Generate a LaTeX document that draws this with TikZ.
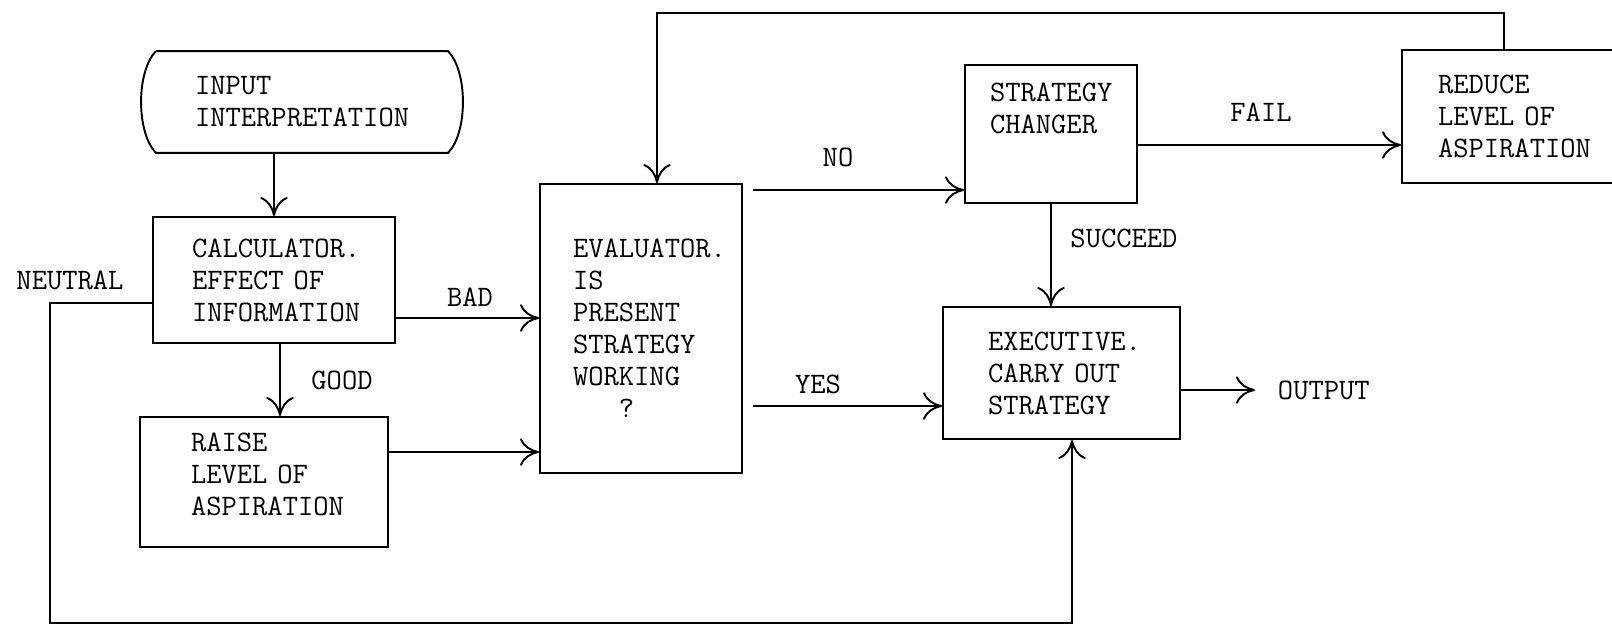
\documentclass[tikz,border=0pt]{standalone}
\usepackage{fontspec}
\usepackage{tikz}
\usetikzlibrary{arrows.meta}

\begin{document}
\begin{tikzpicture}[x=0.02cm, y=-0.02cm,
			box/.style={draw, rectangle, align=left, inner xsep=0pt, inner ysep=0pt},
			lbl/.style={inner sep=1pt},
			every node/.style={font=\ttfamily\fontsize{16.9}{18.2}\selectfont},
			>={Computer Modern Rightarrow[length=.38cm, width=.55cm]},
			line width=1.1pt]
	\useasboundingbox (0,0) rectangle (1612,629);
	\clip (0,0) rectangle (1612,629);
	\node[box, draw=none, minimum width=5.8cm, minimum height=2cm, text width=4.28cm] (inp) at (302,102) {INPUT\\INTERPRETATION};
	\draw (inp.north west) -- (inp.north east) .. controls +(20,20) and +(20,-20) .. (inp.south east)
		-- (inp.south west) .. controls +(-20,-20) and +(-20,20) .. (inp.north west);
	\node[box, minimum width=4.84cm, minimum height=2.52cm, text width=3.28cm] (calc) at (274,280) {CALCULATOR.\\EFFECT OF\\INFORMATION};
	\node[box, minimum width=4.96cm, minimum height=2.6cm, text width=2.92cm] (raise) at (264,482) {RAISE\\LEVEL OF\\ASPIRATION\\[-0.32cm]\mbox{}};
	\node[box, minimum width=4.04cm, minimum height=5.78cm, text width=2.72cm] (eval) at (641,328.5) {EVALUATOR.\\IS\\PRESENT\\STRATEGY\\WORKING\\\phantom{WOR}?};
	\node[box, minimum width=3.44cm, minimum height=2.76cm, text width=2.44cm] (chg) at (1051,134) {STRATEGY\\CHANGER\\[0.4cm]\mbox{}};
	\node[box, minimum width=4.74cm, minimum height=2.64cm, text width=2.94cm] (exec) at (1061.5,373) {EXECUTIVE.\\CARRY OUT\\STRATEGY};
	\node[box, minimum width=4.76cm, minimum height=2.66cm, text width=3.32cm] (reduce) at (1521,116.5) {REDUCE\\LEVEL OF\\ASPIRATION};
	\node[lbl] (neutral) at (70,280) {NEUTRAL};
	\node[lbl] (bad) at (470,297) {BAD};
	\node[lbl] (good) at (342,380) {GOOD};
	\node[lbl] (no) at (838,157) {NO};
	\node[lbl] (yes) at (818,384) {YES};
	\node[lbl] (succ) at (1124,238) {SUCCEED};
	\node[lbl] (fail) at (1261,112) {FAIL};
	\node[lbl, anchor=west, inner xsep=0.44cm] (out) at (1255,390) {OUTPUT};
	\coordinate (loopL) at (50,623);
	\coordinate (loopT) at (657,13);
	\draw[->] (calc.north |- inp.south) -- (calc.north);
	\draw[->] ([xshift=0.12cm]calc.south) -- ([xshift=0.12cm]calc.south |- raise.north);
	\draw[->] ([yshift=-0.76cm]calc.east) -- ([yshift=-0.76cm]calc.east -| eval.west);
	\draw[->] ([yshift=0.6cm]raise.east) -- ([yshift=0.6cm]raise.east -| eval.west);
	\draw[->] ([xshift=0.2cm, yshift=2.77cm]eval.east) -- ([yshift=2.77cm]eval.east -| chg.west);
	\draw[->] ([xshift=0.2cm, yshift=-1.55cm]eval.east) -- ([yshift=-1.55cm]eval.east -| exec.west);
	\draw[->] ([yshift=-0.22cm]chg.east) -- ([yshift=-0.22cm]chg.east -| reduce.west);
	\draw[->] (chg.south) -- (chg.south |- exec.north);
	\draw[->] (out.west -| exec.east) -- (out.west);
	\draw[->] ([yshift=-0.46cm]calc.west) -| (loopL) -| ([xshift=0.21cm]exec.south);
	\draw[->] ([xshift=-0.34cm]reduce.north) |- (loopT) -- ([xshift=0.32cm]eval.north);
\end{tikzpicture}
\end{document}
